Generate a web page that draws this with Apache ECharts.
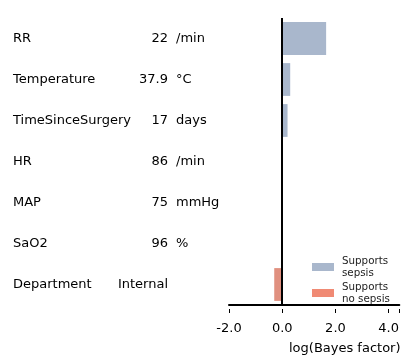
<!DOCTYPE html>
<html><head><meta charset="utf-8">
<script src="https://cdn.jsdelivr.net/npm/echarts@6/dist/echarts.min.js"></script>
<style>html,body{margin:0;padding:0;background:#fff}#c{width:402px;height:357px}</style>
</head><body><div id="c"></div>
<script>
const features = ["RR","Temperature","TimeSinceSurgery","HR","MAP","SaO2","Department"];
const featureValues = ["22","37.9","17","86","75","96","Internal"];
const featureUnits = ["/min","°C","days","/min","mmHg","%",""];
const logBayesFactor = [1.65,0.3,0.2,0.03,0.01,0.005,-0.3];
const xTicks = [-2,0,2,4];
const xTickLabels = ["-2.0","0.0","2.0","4.0"];

const pos = logBayesFactor.map(v => v >= 0 ? v : '-');
const neg = logBayesFactor.map(v => v < 0 ? v : '-');
const font = '"DejaVu Sans", sans-serif';
const lblBase = {fontFamily:font,fontSize:13,color:'#000'};
function catAxis(labels, align, margin){
  return {type:'category',inverse:true,data:features,position:'left',
    axisLine:{show:false},axisTick:{show:false},splitLine:{show:false},
    axisLabel:Object.assign({align:align,margin:margin,formatter:(v,i)=>labels[i]},lblBase)};
}
const chart = echarts.init(document.getElementById('c'), null, {renderer:'canvas'});
chart.setOption({
  animation:false,
  grid:{left:229,right:0,top:18,bottom:52},
  title:{text:'log(Bayes factor)',left:284,top:337,textStyle:{fontFamily:font,fontSize:13,fontWeight:'normal',color:'#000'}},
  legend:{orient:'vertical',left:307,top:250,itemWidth:22,itemHeight:8,itemGap:2,icon:'rect',
    textStyle:{fontFamily:font,fontSize:10.3,color:'#222',lineHeight:12,padding:[0,0,0,3]},
    data:[{name:'Supports\nsepsis',itemStyle:{color:'#a9b7cc'}},{name:'Supports\nno sepsis',itemStyle:{color:'#f08a74'}}]},
  xAxis:[
    {type:'value',min:-2,max:4.4,interval:2,splitLine:{show:false},
     axisLine:{show:true,onZero:false,lineStyle:{color:'#000',width:2}},
     axisTick:{show:false},
     axisLabel:{margin:17,showMaxLabel:false,fontFamily:font,fontSize:13,color:'#000',
       formatter:v=>{const k=xTicks.indexOf(v);return k<0?'':xTickLabels[k];}}},
    {type:'value',min:-2,max:4.4,interval:2,position:'bottom',offset:4,splitLine:{show:false},
     axisLine:{show:false,onZero:false},
     axisLabel:{show:false},
     axisTick:{show:true,length:4,lineStyle:{color:'#000',width:1}}}
  ],
  yAxis:[catAxis(features,'left',216),catAxis(featureValues,'right',61),catAxis(featureUnits,'left',53)],
  series:[
    {name:'Supports\nsepsis',type:'bar',yAxisIndex:0,xAxisIndex:0,data:pos,barCategoryGap:'20%',barGap:'-100%',itemStyle:{color:'#a9b7cc'},
     markLine:{silent:true,symbol:['none','none'],label:{show:false},lineStyle:{color:'#000',width:2,type:'solid'},data:[{xAxis:0}]}},
    {name:'Supports\nno sepsis',type:'bar',yAxisIndex:0,xAxisIndex:0,data:neg,barCategoryGap:'20%',barGap:'-100%',itemStyle:{color:'#e0907f'}}
  ]
});
</script></body></html>
